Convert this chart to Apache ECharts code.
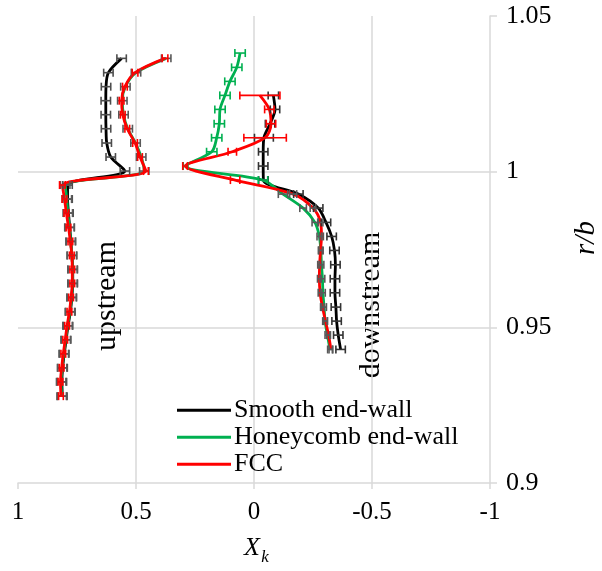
<!DOCTYPE html>
<html>
<head>
<meta charset="utf-8">
<script src="https://cdn.jsdelivr.net/npm/echarts@6/dist/echarts.min.js"></script>
<style>html,body{margin:0;padding:0;background:#fff}#c{width:602px;height:571px}</style>
</head>
<body>
<div id="c"></div>
<script>
// ---- data ----
const seriesNames = ['Smooth end-wall', 'Honeycomb end-wall', 'FCC'];
const xTicks = [1, 0.5, 0, -0.5, -1];
const yTicks = [0.9, 0.95, 1, 1.05];

// r/b positions
const rUp = [0.9279, 0.9325, 0.9370, 0.9415, 0.9460, 0.9505, 0.9550, 0.9596, 0.9641, 0.9686, 0.9731, 0.9776, 0.9821,
  0.9867, 0.9912, 0.9957, 1.0002, 1.0047, 1.0092, 1.0138, 1.0183, 1.0228, 1.0273, 1.0318, 1.0364];
const rDown = [0.9429, 0.9475, 0.9520, 0.9565, 0.9611, 0.9656, 0.9701, 0.9747, 0.9792, 0.9837, 0.9883, 0.9928, 0.9973,
  1.0018, 1.0064, 1.0109, 1.0154, 1.0200, 1.0245, 1.0290, 1.0335, 1.0381];

// upstream Xk
const smoothUp = [0.812, 0.814, 0.811, 0.804, 0.796, 0.788, 0.778, 0.772, 0.768, 0.768, 0.772, 0.776, 0.781, 0.786, 0.790, 0.790,
  0.547, 0.607, 0.624, 0.627, 0.628, 0.628, 0.627, 0.617, 0.561];
const honeyUp = [0.815, 0.817, 0.813, 0.806, 0.798, 0.790, 0.780, 0.773, 0.769, 0.769, 0.771, 0.777, 0.782, 0.789, 0.793, 0.800,
  0.465, 0.478, 0.502, 0.535, 0.553, 0.558, 0.545, 0.500, 0.372];
const fccUp = [0.818, 0.820, 0.815, 0.808, 0.800, 0.792, 0.782, 0.775, 0.770, 0.770, 0.772, 0.778, 0.786, 0.795, 0.803, 0.812,
  0.458, 0.483, 0.504, 0.537, 0.556, 0.561, 0.547, 0.504, 0.377];

// downstream Xk
const smoothDown = [-0.367, -0.357, -0.350, -0.347, -0.343, -0.343, -0.345, -0.341, -0.329, -0.305, -0.272, -0.188, -0.040,
  -0.039, -0.039, -0.042, -0.068, -0.089, -0.082];
const honeyDown = [-0.322, -0.311, -0.301, -0.297, -0.292, -0.290, -0.286, -0.283, -0.277, -0.258, -0.208, -0.123, -0.038,
  0.290, 0.179, 0.158, 0.147, 0.144, 0.123, 0.102, 0.073, 0.059];
const fccDown = [-0.326, -0.316, -0.303, -0.290, -0.280, -0.277, -0.278, -0.282, -0.286, -0.282, -0.250, -0.166, 0.080,
  0.292, 0.092, -0.047, -0.072, -0.065, -0.025];

// error half-widths
const smoothUpErr = [0.02, 0.02, 0.02, 0.02, 0.02, 0.02, 0.02, 0.02, 0.02, 0.02, 0.02, 0.02, 0.02, 0.02, 0.02, 0.02,
  0.02, 0.02, 0.02, 0.02, 0.02, 0.02, 0.02, 0.02, 0.02];
const honeyUpErr = [0.02, 0.02, 0.02, 0.02, 0.02, 0.02, 0.02, 0.02, 0.02, 0.02, 0.02, 0.02, 0.02, 0.02, 0.02, 0.02,
  0.02, 0.02, 0.02, 0.02, 0.02, 0.02, 0.02, 0.02, 0.02];
const fccUpErr = [0.01, 0.01, 0.01, 0.01, 0.01, 0.01, 0.01, 0.01, 0.01, 0.01, 0.01, 0.01, 0.01, 0.01, 0.01, 0.012,
  0.01, 0.01, 0.01, 0.01, 0.01, 0.01, 0.01, 0.012, 0.012];
const smoothDownErr = [0.02, 0.02, 0.02, 0.02, 0.02, 0.02, 0.02, 0.02, 0.02, 0.02, 0.02, 0.02, 0.02,
  0.02, 0.02, 0.04, 0.02, 0.02, 0.022];
const honeyDownErr = [0.01, 0.01, 0.01, 0.01, 0.01, 0.01, 0.01, 0.01, 0.01, 0.012, 0.014, 0.02, 0.02,
  0.01, 0.022, 0.022, 0.022, 0.022, 0.022, 0.022, 0.022, 0.022];
const fccDownErr = [0.008, 0.008, 0.008, 0.008, 0.008, 0.008, 0.008, 0.008, 0.008, 0.01, 0.012, 0.015, 0.02,
  0.01, 0.018, 0.09, 0.02, 0.02, 0.085];

// ---- build ----
const colors = ['#000000', '#00b050', '#ff0000'];
const FONT = 'Liberation Serif';

function pts(xs, ys) { return xs.map((x, i) => [x, ys[i]]); }
function errPts(xs, ys, es) { return xs.map((x, i) => [x, ys[i], es[i]]); }

function lineSeries(name, color, xs, ys, z) {
  return {
    type: 'line', name, data: pts(xs, ys), smooth: 0.3, symbol: 'none',
    lineStyle: { color, width: 2.8 }, itemStyle: { color }, z, animation: false
  };
}
function errSeries(data, color, z) {
  return {
    type: 'custom', data, z, animation: false, silent: true,
    renderItem(params, api) {
      const x = api.value(0), y = api.value(1), e = api.value(2);
      const a = api.coord([x - e, y]), b = api.coord([x + e, y]);
      const h = 4;
      const st = { stroke: color, lineWidth: 1.6 };
      return {
        type: 'group', children: [
          { type: 'line', shape: { x1: a[0], y1: a[1], x2: b[0], y2: b[1] }, style: st },
          { type: 'line', shape: { x1: a[0], y1: a[1] - h, x2: a[0], y2: a[1] + h }, style: st },
          { type: 'line', shape: { x1: b[0], y1: b[1] - h, x2: b[0], y2: b[1] + h }, style: st }
        ]
      };
    }
  };
}

const honeyDownErrPts = errPts(honeyDown, rDown, honeyDownErr);
const fccDownErrPts = errPts(fccDown, rDown, fccDownErr);

const series = [
  lineSeries(seriesNames[0], colors[0], smoothUp, rUp, 2),
  lineSeries(seriesNames[0], colors[0], smoothDown, rDown, 2),
  lineSeries(seriesNames[1], colors[1], honeyUp, rUp, 3),
  lineSeries(seriesNames[1], colors[1], honeyDown, rDown, 3),
  lineSeries(seriesNames[2], colors[2], fccUp, rUp, 4),
  lineSeries(seriesNames[2], colors[2], fccDown, rDown, 4),
  errSeries(errPts(smoothUp, rUp, smoothUpErr), '#4d4d4d', 5),
  errSeries(errPts(smoothDown, rDown, smoothDownErr), '#333333', 5),
  errSeries(errPts(honeyUp, rUp, honeyUpErr), '#595959', 5),
  errSeries(honeyDownErrPts.slice(0, 12), '#595959', 5),
  errSeries(honeyDownErrPts.slice(12), colors[1], 5),
  errSeries(errPts(fccUp, rUp, fccUpErr), colors[2], 6),
  errSeries(fccDownErrPts.slice(0, 12), '#595959', 6),
  errSeries(fccDownErrPts.slice(12), colors[2], 6)
];

const chart = echarts.init(document.getElementById('c'), null, { renderer: 'canvas' });
chart.setOption({
  animation: false,
  backgroundColor: '#ffffff',
  grid: { left: 18, right: 112, top: 16, bottom: 88, containLabel: false },
  xAxis: {
    type: 'value', min: xTicks[xTicks.length - 1], max: xTicks[0], interval: 0.5, inverse: true,
    axisLine: { show: true, onZero: false, lineStyle: { color: '#d9d9d9', width: 1.5 } },
    axisTick: { show: true, inside: false, length: 6, lineStyle: { color: '#d9d9d9', width: 1.5 } },
    splitLine: { show: true, showMinLine: false, showMaxLine: false, lineStyle: { color: '#d9d9d9', width: 1.5 } },
    axisLabel: { color: '#000', fontFamily: FONT, fontSize: 25, margin: 17,
      formatter: v => String(v) }
  },
  yAxis: {
    type: 'value', position: 'right', min: yTicks[0], max: yTicks[yTicks.length - 1], interval: 0.05,
    axisLine: { show: true, onZero: false, lineStyle: { color: '#d9d9d9', width: 1.5 } },
    axisTick: { show: true, inside: false, length: 7, lineStyle: { color: '#d9d9d9', width: 1.5 } },
    splitLine: { show: true, showMinLine: false, showMaxLine: false, lineStyle: { color: '#d9d9d9', width: 1.5 } },
    axisLabel: { color: '#000', fontFamily: FONT, fontSize: 26, margin: 16,
      formatter: v => String(+v.toFixed(2)) }
  },
  legend: {
    data: seriesNames, orient: 'vertical', left: 172, top: 392,
    icon: 'rect', itemWidth: 54, itemHeight: 3, itemGap: 0.5,
    textStyle: { color: '#000', fontFamily: FONT, fontSize: 26, lineHeight: 26.5, padding: [0, 0, 0, -2] },
    selectedMode: false
  },
  graphic: [
    { type: 'text', x: 252, y: 548, style: { text: 'X', fontFamily: FONT, fontStyle: 'italic', fontSize: 26, fill: '#000', align: 'center', verticalAlign: 'middle' } },
    { type: 'text', x: 265, y: 558, style: { text: 'k', fontFamily: FONT, fontStyle: 'italic', fontSize: 17, fill: '#000', align: 'center', verticalAlign: 'middle' } },
    { type: 'text', x: 586, y: 238, rotation: Math.PI / 2, style: { text: 'r/b', fontFamily: FONT, fontStyle: 'italic', fontSize: 29, fill: '#000', align: 'center', verticalAlign: 'middle' } },
    { type: 'text', x: 107, y: 296, rotation: Math.PI / 2, style: { text: 'upstream', fontFamily: FONT, fontSize: 30, fill: '#000', align: 'center', verticalAlign: 'middle' } },
    { type: 'text', x: 371, y: 305, rotation: Math.PI / 2, style: { text: 'downstream', fontFamily: FONT, fontSize: 30, fill: '#000', align: 'center', verticalAlign: 'middle' } }
  ],
  series
});
</script>
</body>
</html>
